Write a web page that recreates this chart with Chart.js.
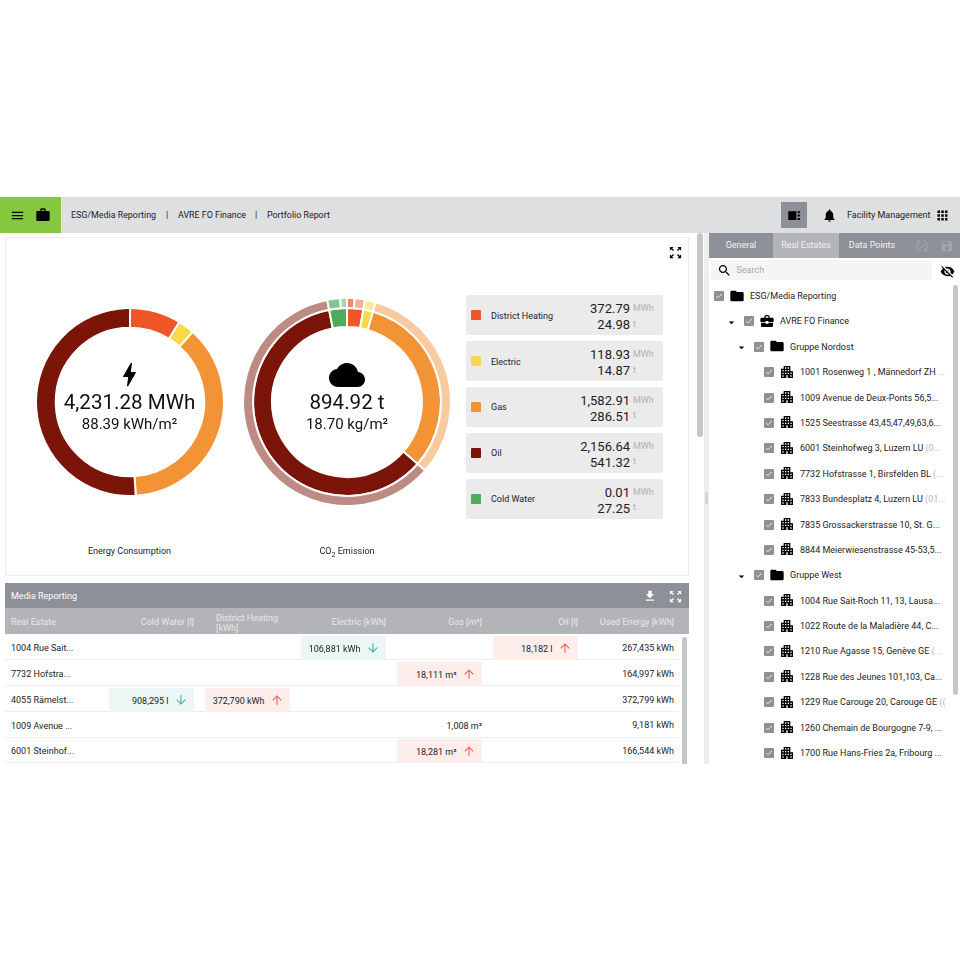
<!DOCTYPE html>
<html>
<head>
<meta charset="utf-8">
<script src="https://cdn.jsdelivr.net/npm/chart.js@4"></script>
<style>
html, body { margin: 0; padding: 0; background: #fff; }
body { width: 960px; height: 960px; overflow: hidden; font-family: Roboto, sans-serif; }
#app { position: absolute; left: 0; top: 196px; width: 960px; height: 568px; overflow: hidden; background: #f8f8f8; filter: blur(0.35px); }
.box { position: absolute; }
.t { position: absolute; white-space: nowrap; line-height: 1; color: #222; font-size: 9px; }
.t span { color: #b5b5b5; }
.ico { position: absolute; display: block; }
canvas { position: absolute; }
</style>
</head>
<body>
<div id="app"></div>
<script>
const categories = ["District Heating", "Electric", "Gas", "Oil", "Cold Water"];
const energyValues = [372.79, 118.93, 1582.91, 2156.64, 0.01];
const co2Values = [24.98, 14.87, 286.51, 541.32, 27.25];
const co2DetailValues = [10.5, 14.48, 14.87, 286.51, 541.32, 18, 9.25];
const colors = ["#ee5626", "#fbd84a", "#f29436", "#7c1509", "#4cac5c"];
const co2DetailColors = ["#f4846a", "#f9ae9a", "#fcea9c", "#f8caa0", "#bd8a84", "#85c491", "#a8d6b0"];
const energyLabels = ["372.79", "118.93", "1,582.91", "2,156.64", "0.01"];
const co2Labels = ["24.98", "14.87", "286.51", "541.32", "27.25"];

const tableHeaders = ["Real Estate", "Cold Water [l]", "District Heating<br>[kWh]", "Electric [kWh]", "Gas [m³]", "Oil [l]", "Used Energy [kWh]"];
const tableNames = ["1004 Rue Sait...", "7732 Hofstra...", "4055 Rämelst...", "1009 Avenue ...", "6001 Steinhof..."];
const tableUsed = ["267,435 kWh", "164,997 kWh", "372,799 kWh", "9,181 kWh", "166,544 kWh"];
// row, column, text, trend
const tableCells = [
  [0, 3, "106,881 kWh", "down"],
  [0, 5, "18,182 l", "up"],
  [1, 4, "18,111 m³", "up"],
  [2, 1, "908,295 l", "down"],
  [2, 2, "372,790 kWh", "up"],
  [3, 4, "1,008 m³", ""],
  [4, 4, "18,281 m³", "up"],
];
// level, icon, text, grey tail
const treeRows = [
  [0, "folder", "ESG/Media Reporting", ""],
  [1, "case", "AVRE FO Finance", ""],
  [2, "folder", "Gruppe Nordost", ""],
  [3, "house", "1001 Rosenweg 1 , Männedorf ZH", " ..."],
  [3, "house", "1009 Avenue de Deux-Ponts 56,5...", ""],
  [3, "house", "1525 Seestrasse 43,45,47,49,63,6...", ""],
  [3, "house", "6001 Steinhofweg 3, Luzern LU", " (0..."],
  [3, "house", "7732 Hofstrasse 1, Birsfelden BL", " (..."],
  [3, "house", "7833 Bundesplatz 4, Luzern LU", " (01..."],
  [3, "house", "7835 Grossackerstrasse 10, St. G...", ""],
  [3, "house", "8844 Meierwiesenstrasse 45-53,5...", ""],
  [2, "folder", "Gruppe West", ""],
  [3, "house", "1004 Rue Sait-Roch 11, 13, Lausa...", ""],
  [3, "house", "1022 Route de la Maladière 44, C...", ""],
  [3, "house", "1210 Rue Agasse 15, Genève GE", " (..."],
  [3, "house", "1228 Rue des Jeunes 101,103, Ca...", ""],
  [3, "house", "1229 Rue Carouge 20, Carouge GE", " (("],
  [3, "house", "1260 Chemain de Bourgogne 7-9, ...", ""],
  [3, "house", "1700 Rue Hans-Fries 2a, Fribourg ...", ""],
];

const icons = {
  menu: "M3 18h18v-2H3v2zm0-5h18v-2H3v2zm0-7v2h18V6H3z",
  work: "M20 6h-4V4c0-1.11-.89-2-2-2h-4c-1.11 0-2 .89-2 2v2H4c-1.11 0-1.99.89-1.99 2L2 19c0 1.11.89 2 2 2h16c1.11 0 2-.89 2-2V8c0-1.11-.89-2-2-2zm-6 0h-4V4h4v2z",
  bell: "M12 22c1.1 0 2-.9 2-2h-4c0 1.1.89 2 2 2zm6-6v-5c0-3.07-1.64-5.64-4.5-6.32V4c0-.83-.67-1.5-1.5-1.5s-1.5.67-1.5 1.5v.68C7.63 5.36 6 7.92 6 11v5l-2 2v1h16v-1l-2-2z",
  apps: "M4 8h4V4H4v4zm6 12h4v-4h-4v4zm-6 0h4v-4H4v4zm0-6h4v-4H4v4zm6 0h4v-4h-4v4zm6-10v4h4V4h-4zm-6 4h4V4h-4v4zm6 6h4v-4h-4v4zm0 6h4v-4h-4v4z",
  bolt: "M11 21h-1l1-7H7.5c-.58 0-.57-.32-.38-.66.19-.34.05-.08.07-.12C8.48 10.94 10.42 7.54 13 3h1l-1 7h3.5c.49 0 .56.33.47.51l-.07.15C12.96 17.55 11 21 11 21z",
  cloud: "M19.35 10.04C18.67 6.59 15.64 4 12 4 9.11 4 6.6 5.64 5.35 8.04 2.34 8.36 0 10.91 0 14c0 3.31 2.69 6 6 6h13c2.76 0 5-2.24 5-5 0-2.64-2.05-4.78-4.65-4.96z",
  folder: "M10 4H4c-1.1 0-1.99.9-1.99 2L2 18c0 1.1.9 2 2 2h16c1.1 0 2-.9 2-2V8c0-1.1-.9-2-2-2h-8l-2-2z",
  search: "M15.5 14h-.79l-.28-.27C15.41 12.59 16 11.11 16 9.5 16 5.91 13.09 3 9.5 3S3 5.91 3 9.5 5.91 16 9.5 16c1.61 0 3.09-.59 4.23-1.57l.27.28v.79l5 4.99L20.49 19l-4.99-5zm-6 0C7.01 14 5 11.99 5 9.5S7.01 5 9.5 5 14 7.01 14 9.5 11.99 14 9.5 14z",
  up: "M4 12l1.41 1.41L11 7.83V20h2V7.83l5.58 5.59L20 12l-8-8-8 8z",
  down: "M20 12l-1.41-1.41L13 16.17V4h-2v12.17l-5.59-5.58L4 12l8 8 8-8z",
  download: "M19 9h-4V3H9v6H5l7 7 7-7zM5 18v2h14v-2H5z",
  expand: "M15 3l2.3 2.3-2.89 2.87 1.42 1.42L18.7 6.7 21 9V3zM3 9l2.3-2.3 2.87 2.89 1.42-1.42L6.7 5.3 9 3H3zm6 12l-2.3-2.3 2.89-2.87-1.42-1.42L5.3 17.3 3 15v6zm12-6l-2.3 2.3-2.87-2.89-1.42 1.42 2.89 2.87L15 21h6z",
  house: "M17 11V3H7v4H3v14h8v-4h2v4h8V11h-4zM7 19H5v-2h2v2zm0-4H5v-2h2v2zm0-4H5V9h2v2zm4 4H9v-2h2v2zm0-4H9V9h2v2zm0-4H9V5h2v2zm4 8h-2v-2h2v2zm0-4h-2V9h2v2zm0-4h-2V5h2v2zm4 12h-2v-2h2v2zm0-4h-2v-2h2v2z",
  eyeoff: "M12 7c2.76 0 5 2.24 5 5 0 .65-.13 1.26-.36 1.83l2.92 2.92c1.51-1.26 2.7-2.89 3.43-4.75-1.73-4.39-6-7.5-11-7.5-1.4 0-2.74.25-3.98.7l2.16 2.16C10.74 7.13 11.35 7 12 7zM2 4.27l2.28 2.28.46.46C3.08 8.3 1.78 10.02 1 12c1.73 4.39 6 7.5 11 7.5 1.55 0 3.03-.3 4.38-.84l.42.42L19.73 22 21 20.73 3.27 3 2 4.27zM7.53 9.8l1.55 1.55c-.05.21-.08.43-.08.65 0 1.66 1.34 3 3 3 .22 0 .44-.03.65-.08l1.55 1.55c-.67.33-1.41.53-2.2.53-2.76 0-5-2.24-5-5 0-.79.2-1.53.53-2.2zm4.31-.78l3.15 3.15.02-.16c0-1.66-1.34-3-3-3l-.17.01z",
  case: "M10 16v-1H3.01L3 19c0 1.11.89 2 2 2h14c1.11 0 2-.89 2-2v-4h-7v1h-4zm10-9h-4.01V5l-2-2h-4l-2 2v2H4c-1.1 0-2 .9-2 2v3c0 1.11.89 2 2 2h6v-2h4v2h6c1.1 0 2-.9 2-2V9c0-1.1-.9-2-2-2zm-6 0h-4V5h4v2z",
  save: "M17 3H5c-1.11 0-2 .9-2 2v14c0 1.1.89 2 2 2h14c1.1 0 2-.9 2-2V7l-4-4zm-5 16c-1.66 0-3-1.34-3-3s1.34-3 3-3 3 1.34 3 3-1.34 3-3 3zm3-10H5V5h10v4z",
  sync: "M17.66 9.53l-7.07 7.07-4.24-4.24 1.41-1.41 2.83 2.83 5.66-5.66 1.41 1.41zM4 12c0-2.33 1.02-4.42 2.62-5.88L9 8.5v-6H3l2.2 2.2C3.24 6.52 2 9.11 2 12c0 5.19 3.95 9.45 9 9.95v-2.02C7.06 19.44 4 16.07 4 12zm18 0c0-5.19-3.95-9.45-9-9.95v2.02c3.94.49 7 3.86 7 7.93 0 2.33-1.02 4.42-2.62 5.88L15 15.5v6h6l-2.2-2.2c1.96-1.82 3.2-4.41 3.2-7.3z",
  side: "M2 5h13v14H2zM17 5h4v3h-4zM17 10.5h4v3h-4zM17 16h4v3h-4z",
  check: "M9 16.2L4.8 12l-1.4 1.4L9 19 21 7l-1.4-1.4z",
  tri: "M7 10l5 5 5-5z",
};

const app = document.getElementById("app");
const DARK = "#8e9097";
const LIGHT = "#b3b4b8";

function box(x, y, w, h, bg, extra) {
  const d = document.createElement("div");
  d.className = "box";
  d.style.cssText = `left:${x}px;top:${y - 196}px;width:${w}px;height:${h}px;background:${bg};${extra || ""}`;
  app.append(d);
  return d;
}
// x is the left edge, or the right edge when align is "right", or the middle for "center"
function text(x, y, str, opt) {
  opt = opt || {};
  const d = document.createElement("div");
  d.className = "t";
  d.innerHTML = str;
  const size = opt.size || 9;
  d.style.fontSize = size + "px";
  d.style.top = y - 196 - size / 2 + "px";
  if (opt.color) d.style.color = opt.color;
  if (opt.lh) d.style.lineHeight = opt.lh;
  if (opt.align == "right") {
    d.style.right = 960 - x + "px";
    d.style.textAlign = "right";
  } else if (opt.align == "center") {
    d.style.left = x + "px";
    d.style.transform = "translateX(-50%)";
  } else {
    d.style.left = x + "px";
  }
  app.append(d);
  return d;
}
// cx, cy is the middle of the icon
function icon(name, cx, cy, size, color) {
  const NS = "http://www.w3.org/2000/svg";
  const s = document.createElementNS(NS, "svg");
  s.setAttribute("viewBox", "0 0 24 24");
  s.setAttribute("class", "ico");
  s.style.cssText = `left:${cx - size / 2}px;top:${cy - 196 - size / 2}px;width:${size}px;height:${size}px`;
  const p = document.createElementNS(NS, "path");
  p.setAttribute("d", icons[name]);
  p.setAttribute("fill", color || "#000");
  s.append(p);
  app.append(s);
}

// top bar
box(0, 197, 960, 35.5, "#dedfe1");
box(0, 197, 61, 35.5, "#85c83e");
icon("menu", 17.5, 215, 15);
icon("work", 43, 215, 16);
text(71, 215, "ESG/Media Reporting", { size: 8.9 });
text(166, 215, "|", { size: 8.9 });
text(178, 215, "AVRE FO Finance", { size: 8.9 });
text(255, 215, "|", { size: 8.9 });
text(267, 215, "Portfolio Report", { size: 8.9 });
box(781, 202, 26, 25.5, DARK);
icon("side", 794, 215, 15);
icon("bell", 829, 215, 15);
text(847, 215.5, "Facility Management");
icon("apps", 942.5, 215, 15);

// report panel
box(0, 233, 704, 531, "#fff");
box(5, 237, 684, 339, "#fff", "box-sizing:border-box;border:1px solid #efefef;");
icon("expand", 675.5, 252, 15);
box(697, 233, 5.5, 204, "#c6c6c6", "border-radius:3px;");
box(704, 233, 5, 531, "#eeeeee");
box(704.5, 492, 3, 12, "#d4d4d4");

function makeChart(left, top, size, datasets, cutout) {
  const c = document.createElement("canvas");
  c.width = size;
  c.height = size;
  c.style.cssText = `left:${left}px;top:${top - 196}px;width:${size}px;height:${size}px`;
  app.append(c);
  return new Chart(c, {
    type: "doughnut",
    data: { labels: datasets[0].labels, datasets: datasets },
    options: {
      responsive: false,
      animation: false,
      cutout: cutout,
      plugins: { legend: { display: false }, tooltip: { enabled: false } },
    },
  });
}

makeChart(129.5 - 95, 401.7 - 95, 190, [
  { labels: categories, data: energyValues, backgroundColor: colors, borderColor: "#fff", borderWidth: 2 },
], "79%");

makeChart(346.7 - 105, 401.7 - 105, 210, [
  { labels: categories, data: co2DetailValues, backgroundColor: co2DetailColors, borderColor: "#fff", borderWidth: 2, weight: 10 },
  { labels: categories, data: co2Values, backgroundColor: colors, borderColor: "#fff", borderWidth: 2, weight: 19 },
], "72.1%");

icon("bolt", 129.5, 374.5, 31);
text(129.5, 402.5, "4,231.28 MWh", { size: 20.6, color: "#111", align: "center" });
text(129.5, 424.5, "88.39 kWh/m²", { size: 15, color: "#111", align: "center" });
text(129.5, 551.5, "Energy Consumption", { align: "center" });
icon("cloud", 347, 375, 36);
text(347, 402.5, "894.92 t", { size: 20.6, color: "#111", align: "center" });
text(347, 424.5, "18.70 kg/m²", { size: 15, color: "#111", align: "center" });
text(347, 551.5, "CO<sub style='font-size:7px;line-height:0'>2</sub> Emission", { align: "center" });

// legend cards
const cardTops = [295, 341, 386.5, 432.5, 478.5];
categories.forEach((name, i) => {
  const y = cardTops[i];
  box(466, y, 197, 40, "#ebebeb", "border-radius:2px;");
  box(471, y + 15, 10, 10, colors[i], "border-radius:1px;");
  text(491, y + 21, name);
  text(630, y + 13.5, energyLabels[i], { size: 13, align: "right", color: "#222" });
  text(630, y + 29.5, co2Labels[i], { size: 13, align: "right", color: "#222" });
  text(633, y + 13.5, "MWh", { color: "#b0b0b0" });
  text(633, y + 29, "t", { color: "#b0b0b0" });
});

// table
box(5, 583, 684, 25, DARK);
text(11, 596, "Media Reporting", { color: "#fff" });
icon("download", 650, 596, 14, "#fff");
icon("expand", 675.5, 596, 15, "#fff");
box(5, 608, 684, 26, LIGHT);
const colRight = [72, 194, 290, 386, 482, 578, 674];
const rowTops = [634, 660, 686, 711.5, 737];
tableHeaders.forEach((h, i) => {
  if (i == 0) text(11, 622, h, { color: "#e8e8e8" });
  else if (i == 2) text(216, 622, h, { color: "#e8e8e8", lh: "10px" }).style.top = 613 - 196 + "px";
  else text(colRight[i], 622, h, { color: "#e8e8e8", align: "right" });
});
rowTops.forEach((y, i) => {
  box(5, y + 25, 674, 1, "#eeeeee");
  text(11, y + 14.5, tableNames[i], { color: "#222" });
  text(674, y + 14, tableUsed[i], { color: "#222", align: "right" });
});
tableCells.forEach(([row, col, str, trend]) => {
  const y = rowTops[row] + 1.5;
  const right = colRight[col];
  if (trend == "") {
    text(right, y + 13, str, { color: "#222", align: "right" });
    return;
  }
  const color = trend == "up" ? "#f0645a" : "#4cb5a0";
  box(right - 85.5, y, 85.5, 24, trend == "up" ? "#fdeeec" : "#ecf7f5");
  text(right - 25.5, y + 13.5, str, { color: "#222", align: "right" });
  icon(trend, right - 13, y + 12.5, 14, color);
});
box(682, 637, 4.5, 130, "#c6c6c6", "border-radius:3px;");

// right panel
box(709, 233, 251, 531, "#fff");
box(709, 233, 251, 25, DARK);
box(773, 233, 66, 25, LIGHT);
text(741, 245.5, "General", { color: "#f2f2f2", align: "center" });
text(806, 245.5, "Real Estates", { color: "#f2f2f2", align: "center" });
text(872, 245.5, "Data Points", { color: "#f2f2f2", align: "center" });
icon("sync", 922, 246, 14, "#a3a4a9");
icon("save", 947, 246, 14, "#a3a4a9");
box(711, 260, 221, 20, "#f5f5f5", "border-radius:2px;");
icon("search", 724, 270, 15);
text(736.5, 270.5, "Search", { color: "#a8a8a8" });
icon("eyeoff", 947.5, 271, 15);
box(953, 285, 5, 410, "#c6c6c6", "border-radius:3px;");

treeRows.forEach(([level, name, str, tail], i) => {
  const y = 296 + i * 25.39;
  const cbx = 719 + level * 10 + (level > 0 ? 20 : 0);
  if (level == 1 || level == 2) icon("tri", cbx - 18, y + 1, 13);
  box(cbx - 5, y - 5, 10, 10, "#8e9097", "border-radius:1px;");
  icon("check", cbx, y, 8, "#fff");
  icon(name, cbx + 18, y - 0.5, 16);
  text(cbx + 31, y + 0.5, str + (tail ? `<span>${tail}</span>` : ""), { color: "#222" });
});
</script>
</body>
</html>
